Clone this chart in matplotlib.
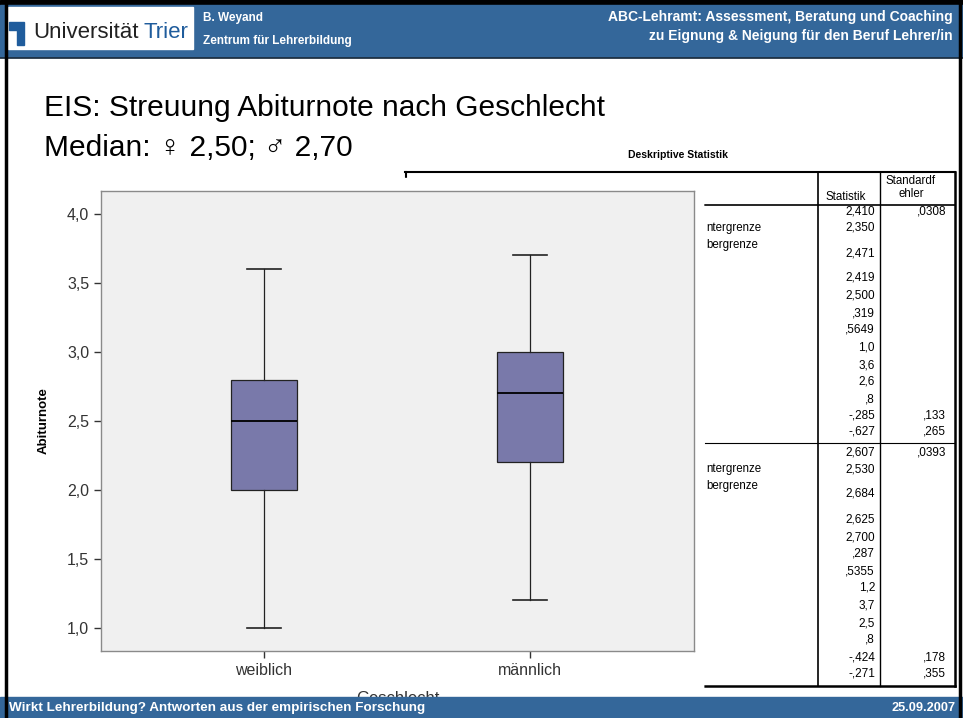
import matplotlib
matplotlib.use('Agg')
import matplotlib.pyplot as plt
from matplotlib.patches import Rectangle, Polygon
from matplotlib.lines import Line2D

# --- data ---
groups = ['weiblich', 'männlich']
whisker_low = [1.0, 1.2]
quartile_1 = [2.0, 2.2]
medians = [2.5, 2.7]
quartile_3 = [2.8, 3.0]
whisker_high = [3.6, 3.7]
y_ticks = [1.0, 1.5, 2.0, 2.5, 3.0, 3.5, 4.0]
y_tick_labels = ['1,0', '1,5', '2,0', '2,5', '3,0', '3,5', '4,0']

# descriptive statistics table (visible columns only)
row_labels = ['', 'ntergrenze', 'bergrenze', '', '', '', '', '', '', '', '', '', '']
stat_weiblich = ['2,410', '2,350', '2,471', '2,419', '2,500', ',319', ',5649',
                 '1,0', '3,6', '2,6', ',8', '-,285', '-,627']
se_weiblich = [',0308', '', '', '', '', '', '', '', '', '', '', ',133', ',265']
stat_maennlich = ['2,607', '2,530', '2,684', '2,625', '2,700', ',287', ',5355',
                  '1,2', '3,7', '2,5', ',8', '-,424', '-,271']
se_maennlich = [',0393', '', '', '', '', '', '', '', '', '', '', ',178', ',355']

W, H = 963, 718
BLUE = '#34679A'
FONT = ['Liberation Sans', 'DejaVu Sans']
plt.rcParams['font.family'] = FONT


def fx(x):
    return x / W


def fy(y):
    return 1 - y / H


def hline(fig, x0, x1, y, lw=1.0, color='black', z=1):
    fig.add_artist(Line2D([fx(x0), fx(x1)], [fy(y), fy(y)], lw=lw, color=color, zorder=z))


def vline(fig, x, y0, y1, lw=1.0, color='black', z=1):
    fig.add_artist(Line2D([fx(x), fx(x)], [fy(y0), fy(y1)], lw=lw, color=color, zorder=z))


fig = plt.figure(figsize=(W / 100, H / 100), dpi=100)
fig.patch.set_facecolor('white')

# --- header ---
fig.add_artist(Rectangle((0, fy(5)), 1, 5 / H, color='black', zorder=5))
fig.add_artist(Rectangle((0, fy(57)), 1, 52 / H, color=BLUE, zorder=5))
hline(fig, 0, W, 57.5, lw=1.2, color='#1a2a3a', z=6)
fig.add_artist(Rectangle((fx(8), fy(49)), fx(185), 42 / H, color='white', zorder=6))
fig.add_artist(Polygon([[fx(9), fy(22)], [fx(24), fy(22)], [fx(24), fy(45)],
                        [fx(17), fy(45)], [fx(17), fy(30)], [fx(9), fy(30)]],
                       closed=True, color='#1F5C9C', zorder=7))
fig.text(fx(33), fy(32), 'Universität', fontsize=16, color='#222222',
         va='center', ha='left', zorder=7)
fig.text(fx(144), fy(32), 'Trier', fontsize=16, color='#1F5C9C',
         va='center', ha='left', zorder=7)
fig.text(fx(203), fy(18), 'B. Weyand', fontsize=8.5, color='white',
         weight='bold', va='center', zorder=7)
fig.text(fx(203), fy(41), 'Zentrum für Lehrerbildung', fontsize=8.5, color='white',
         weight='bold', va='center', zorder=7)
fig.text(fx(953), fy(17), 'ABC-Lehramt: Assessment, Beratung und Coaching',
         fontsize=10, color='white', weight='bold', ha='right', va='center', zorder=7)
fig.text(fx(953), fy(36), 'zu Eignung & Neigung für den Beruf Lehrer/in',
         fontsize=10, color='white', weight='bold', ha='right', va='center', zorder=7)

# --- footer ---
fig.add_artist(Rectangle((0, 0), 1, 21 / H, color=BLUE, zorder=8))
fig.text(fx(9), fy(708), 'Wirkt Lehrerbildung? Antworten aus der empirischen Forschung',
         fontsize=9.7, color='white', weight='bold', va='center', zorder=9)
fig.text(fx(955), fy(708), '25.09.2007', fontsize=9.2, color='white',
         weight='bold', ha='right', va='center', zorder=9)

# slide borders
vline(fig, 5.5, 0, H, lw=2.5, z=10)
vline(fig, 960, 0, H, lw=2.5, z=10)

# --- title ---
fig.text(fx(44), fy(108), 'EIS: Streuung Abiturnote nach Geschlecht', fontsize=21.5,
         va='center', ha='left', color='black')
fig.text(fx(44), fy(148), 'Median: ♀ 2,50; ♂ 2,70', fontsize=21.5,
         va='center', ha='left', color='black', family=FONT)

# --- table ---
fig.text(fx(678), fy(155), 'Deskriptive Statistik', fontsize=7.5, weight='bold',
         ha='center', va='center')
hline(fig, 405, 955, 172, lw=1.5)
vline(fig, 405.5, 172, 181, lw=1.5)
vline(fig, 818, 172, 686, lw=1.2)
vline(fig, 880, 172, 686, lw=1.0)
vline(fig, 955, 172, 686, lw=1.8)
hline(fig, 705, 955, 205, lw=1.2)
hline(fig, 705, 955, 443, lw=0.8)
hline(fig, 705, 955, 686, lw=1.8)
fig.text(fx(846), fy(197), 'Statistik', fontsize=8.3, ha='center', va='center')
fig.text(fx(911), fy(181), 'Standardf', fontsize=8.3, ha='center', va='center')
fig.text(fx(911), fy(194), 'ehler', fontsize=8.3, ha='center', va='center')

row_offsets = [0, 17, 42, 67, 85, 102, 119, 136, 154, 171, 188, 205, 221]
for y0, stats, ses in [(211, stat_weiblich, se_weiblich), (452, stat_maennlich, se_maennlich)]:
    for i, off in enumerate(row_offsets):
        fig.text(fx(875), fy(y0 + off), stats[i], fontsize=8.5, ha='right', va='center')
        if ses[i]:
            fig.text(fx(946), fy(y0 + off), ses[i], fontsize=8.5, ha='right', va='center')
    fig.text(fx(706), fy(y0 + 17), row_labels[1], fontsize=8.3, ha='left', va='center')
    fig.text(fx(706), fy(y0 + 34), row_labels[2], fontsize=8.3, ha='left', va='center')

# --- chart panel (white, overlays the table) ---
fig.add_artist(Rectangle((fx(8), fy(697)), fx(695), (697 - 178) / H,
                         color='white', zorder=3))

ax = fig.add_axes([fx(101), fy(651), 593 / W, 460 / H], zorder=4)
ax.set_facecolor('#F0F0F0')
stats = []
for i, g in enumerate(groups):
    stats.append(dict(label=g, whislo=whisker_low[i], q1=quartile_1[i], med=medians[i],
                      q3=quartile_3[i], whishi=whisker_high[i], fliers=[]))
ax.bxp(stats, positions=[1, 2], widths=0.25, patch_artist=True, showfliers=False,
       boxprops=dict(facecolor='#7979AA', edgecolor='#222222', linewidth=0.9),
       medianprops=dict(color='black', linewidth=1.3),
       whiskerprops=dict(color='#222222', linewidth=0.9),
       capprops=dict(color='#222222', linewidth=1.2))
ax.set_xlim(0.387, 2.617)
ax.set_ylim(0.833, 4.167)
ax.set_yticks(y_ticks)
ax.set_yticklabels(y_tick_labels)
ax.set_xticks([1, 2])
ax.set_xticklabels(groups)
ax.tick_params(labelsize=11.5, colors='#333333', length=5, width=1)
for s in ax.spines.values():
    s.set_color('#8A8A8A')
    s.set_linewidth(1.0)
ax.set_ylabel('Abiturnote', fontsize=9.5, weight='bold')
ax.yaxis.set_label_coords(-0.086, 0.5)
# the x label is cut off by the footer bar in the original slide
ax.set_xlabel('Geschlecht', fontsize=12, color='#333333')
ax.xaxis.set_label_coords(0.5, -0.087)

plt.savefig('out.png', dpi=100)
